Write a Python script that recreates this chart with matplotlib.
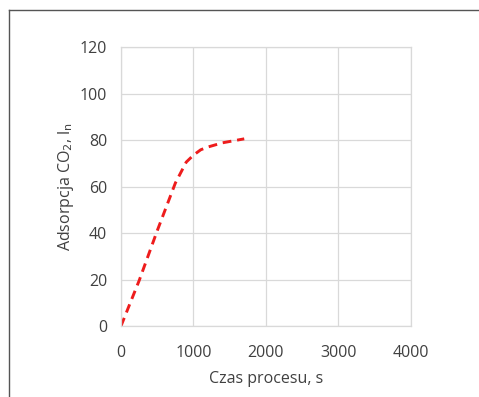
import matplotlib.pyplot as plt
from matplotlib.lines import Line2D

# adsorption curve
time_s = [0, 250, 500, 750, 900, 1000, 1100, 1200, 1400, 1700]
adsorption = [0, 19.5, 41, 61.5, 70.5, 73.5, 75.8, 77, 78.8, 80.5]

x_ticks = [0, 1000, 2000, 3000, 4000]
y_ticks = [0, 20, 40, 60, 80, 100, 120]

plt.rcParams['font.family'] = ['Open Sans', 'DejaVu Sans']

fig = plt.figure(figsize=(4.79, 3.97), dpi=100)
ax = fig.add_axes([0.2526, 0.1788, 0.6054, 0.7028])

ax.plot(time_s, adsorption, color='#ee1c1c', linestyle=(0, (3, 2)), linewidth=2.1)

ax.set_xlim(0, 4000)
ax.set_ylim(0, 120)
ax.set_xticks(x_ticks)
ax.set_yticks(y_ticks)
ax.grid(True, color='#d9d9d9', linewidth=0.9)
ax.set_axisbelow(True)
for side in ax.spines.values():
    side.set_color('#d9d9d9')
    side.set_linewidth(0.9)
ax.tick_params(length=0, labelsize=11.5, colors='#404040')
ax.tick_params(axis='x', pad=14)
ax.tick_params(axis='y', pad=10)

ax.set_xlabel('Czas procesu, s', fontsize=11.5, color='#404040', labelpad=7)
ax.set_ylabel('Adsorpcja CO$_2$, l$_\\mathrm{n}$', fontsize=11.5, color='#404040', labelpad=3)

# frame lines at top and left of the figure
fig.add_artist(Line2D([9 / 479, 1], [1 - 10 / 397, 1 - 10 / 397], transform=fig.transFigure, color='#555555', linewidth=1))
fig.add_artist(Line2D([9 / 479, 9 / 479], [0, 1 - 10 / 397], transform=fig.transFigure, color='#555555', linewidth=1))

fig.savefig('out.png', dpi=100)
